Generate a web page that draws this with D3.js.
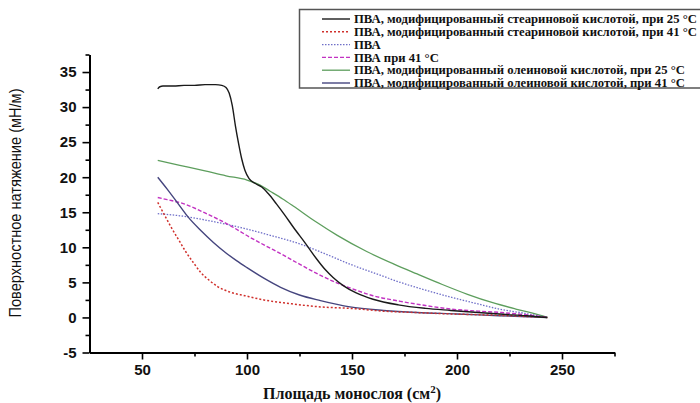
<!DOCTYPE html>
<html><head><meta charset="utf-8">
<script src="https://cdn.jsdelivr.net/npm/d3@7"></script>
<style>body{margin:0;background:#fff}svg{display:block}</style>
</head><body>
<svg id="chart" width="700" height="403"></svg>
<script>
// ---- data ----
const seriesNames = [
  "ПВА, модифицированный стеариновой кислотой, при 25 °C",
  "ПВА, модифицированный стеариновой кислотой, при 41 °C",
  "ПВА",
  "ПВА при 41 °C",
  "ПВА, модифицированный олеиновой кислотой, при 25 °C",
  "ПВА, модифицированный олеиновой кислотой, при 41 °C"
];
const stearic25X = [57.5,58.5,60,65,70,75,80,85,88,90,91.5,93,94.5,96,97.5,99,101,104,107,110,114,118,122,128,133,137,141,146,152,160,172,185,197,210,222,233,243];
const stearic25Y = [32.6,32.9,33.0,33.0,33.1,33.1,33.2,33.2,33.1,32.8,32.0,30.2,27.3,24.8,22.6,21.0,19.8,19.1,18.6,17.7,16.2,14.6,12.9,10.5,8.4,6.9,5.7,4.5,3.5,2.6,1.8,1.3,1.0,0.7,0.45,0.25,0];
const stearic41X = [57.5,60,64,68,71,75,78,82,86,92,99,108,120,135,149,165,180,197,220,243];
const stearic41Y = [16.4,15.0,12.8,10.8,9.3,7.6,6.4,5.3,4.4,3.6,3.1,2.5,2.0,1.5,1.3,0.9,0.7,0.5,0.3,0];
const pvaX = [57.5,68,80,90,100,110,125,137,149,161,173,185,197,209,220,232,243];
const pvaY = [14.8,14.5,13.9,13.3,12.6,11.8,10.5,9.1,7.6,6.3,5.0,3.9,2.9,2.0,1.2,0.6,0];
const pva41X = [57.5,62,70,80,92,101,109,116,125,135,143,150,160,173,185,197,210,221,232,243];
const pva41Y = [17.1,16.8,16.2,14.9,13.1,11.5,10.2,9.1,7.6,6.0,4.9,4.1,3.1,2.3,1.7,1.2,0.9,0.7,0.4,0];
const oleic25X = [57.5,68,80,90,100,106,111,117,122,133,143,157,170,181,193,205,217,228,236,243];
const oleic25Y = [22.4,21.7,20.9,20.2,19.6,18.9,18.0,16.9,15.9,13.6,11.7,9.4,7.6,6.2,4.7,3.3,2.1,1.2,0.6,0];
const oleic41X = [57.5,62,67,72,78,84,90,95,100,108,116,125,135,149,165,181,200,220,243];
const oleic41Y = [20.0,18.3,16.3,14.3,12.4,10.7,9.2,8.1,7.1,5.6,4.3,3.2,2.4,1.5,1.0,0.7,0.5,0.25,0];
const xTicks = [50,100,150,200,250];
const yTicks = [-5,0,5,10,15,20,25,30,35];
const xTitle = "Площадь монослоя (см";
const yTitle = "Поверхностное натяжение (мН/м)";

// ---- styles ----
const styles = [
  {color:"#1a1a1a", dash:null, width:1.4},
  {color:"#d0302c", dash:"2,2", width:1.5},
  {color:"#6f6fc8", dash:"1.5,1.5", width:1.3},
  {color:"#c232c2", dash:"4,2", width:1.4},
  {color:"#5d9e5d", dash:null, width:1.3},
  {color:"#45457e", dash:null, width:1.4}
];
const seriesData = [
  [stearic25X, stearic25Y],[stearic41X, stearic41Y],[pvaX,pvaY],
  [pva41X,pva41Y],[oleic25X,oleic25Y],[oleic41X,oleic41Y]
].map(([xs,ys]) => xs.map((x,i)=>({x, y:ys[i]})));

const svg = d3.select("#chart");
const x = d3.scaleLinear().domain([25,275]).range([89.5,614.5]);
const y = d3.scaleLinear().domain([-5,37.5]).range([352.5,54.5]);

const fmt = d => String(d);
const xAxis = d3.axisBottom(x).tickValues(xTicks).tickSize(7).tickSizeOuter(0).tickPadding(5).tickFormat(fmt);
const xMinor = d3.axisBottom(x).tickValues([75,125,175,225,275]).tickSize(4).tickSizeOuter(0).tickFormat("");
const yAxis = d3.axisLeft(y).tickValues(yTicks).tickSize(7).tickSizeOuter(0).tickPadding(6).tickFormat(fmt);
const yMinor = d3.axisLeft(y).tickValues(d3.range(-2.5,38,5)).tickSize(4).tickSizeOuter(0).tickFormat("");

function styleAxis(g){
  g.select(".domain").attr("stroke","#000").attr("stroke-width",2);
  g.selectAll(".tick line").attr("stroke","#000").attr("stroke-width",1.6);
  g.selectAll(".tick text").attr("font-family","Liberation Sans, Arial, sans-serif")
    .attr("font-size",15).attr("font-weight","bold").attr("fill","#111");
}
svg.append("g").attr("transform","translate(0,352.5)").call(xMinor).call(styleAxis);
svg.append("g").attr("transform","translate(0,352.5)").call(xAxis).call(styleAxis);
svg.append("g").attr("transform","translate(89.5,0)").call(yMinor).call(styleAxis);
svg.append("g").attr("transform","translate(89.5,0)").call(yAxis).call(styleAxis);

// lines
const line = d3.line().x(d=>x(d.x)).y(d=>y(d.y)).curve(d3.curveMonotoneX);
const order = [4,2,3,5,1,0];
order.forEach(i=>{
  svg.append("path").datum(seriesData[i]).attr("d",line)
    .attr("fill","none").attr("stroke",styles[i].color)
    .attr("stroke-width",styles[i].width)
    .attr("stroke-dasharray",styles[i].dash)
    .attr("stroke-linejoin","round");
});

// axis titles
const xt = svg.append("text").attr("x",352).attr("y",399).attr("text-anchor","middle")
  .attr("font-family","Liberation Serif, Times New Roman, serif").attr("font-weight","bold")
  .attr("font-size",16).attr("fill","#111");
xt.append("tspan").text(xTitle);
xt.append("tspan").attr("dy",-6).attr("font-size",11).text("2");
xt.append("tspan").attr("dy",6).text(")");

svg.append("text").attr("transform","translate(21,203) rotate(-90)").attr("text-anchor","middle")
  .attr("font-family","Liberation Sans Narrow, Arial Narrow, sans-serif")
  .attr("font-size",16).attr("fill","#111")
  .attr("textLength",229).attr("lengthAdjust","spacingAndGlyphs")
  .text(yTitle);

// legend
const lg = svg.append("g");
lg.append("rect").attr("x",299.5).attr("y",9.5).attr("width",420).attr("height",78.5)
  .attr("fill","#fff").attr("stroke","#555").attr("stroke-width",1.5);
seriesNames.forEach((name,i)=>{
  const yy = 19 + i*12.8;
  lg.append("line").attr("x1",322).attr("x2",350).attr("y1",yy).attr("y2",yy)
    .attr("stroke",styles[i].color).attr("stroke-width",styles[i].width)
    .attr("stroke-dasharray",styles[i].dash);
  lg.append("text").attr("class","lt").attr("x",354).attr("y",yy+4.2)
    .attr("font-family","Liberation Serif, Times New Roman, serif").attr("font-weight","bold")
    .attr("font-size",12.5).attr("fill","#111").text(name);
});
const first = lg.select(".lt").node();
const w = first.getComputedTextLength();
const fs = 12.5 * 343 / w;
lg.selectAll(".lt").attr("font-size", Math.max(10, Math.min(14, fs)));
</script>
</body></html>
